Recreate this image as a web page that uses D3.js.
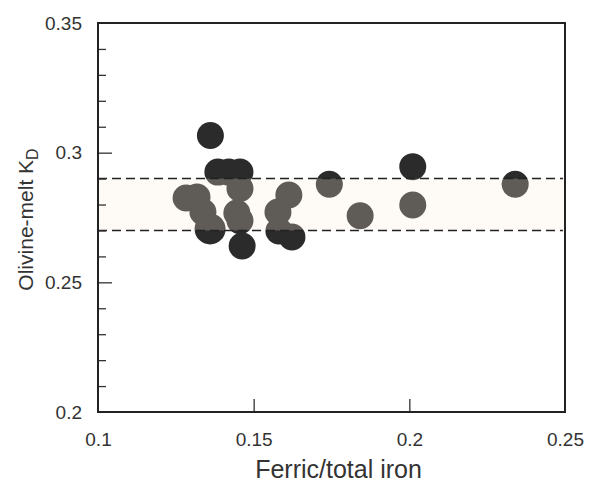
<!DOCTYPE html>
<html>
<head>
<meta charset="utf-8">
<script src="https://cdn.jsdelivr.net/npm/d3@7"></script>
<style>
  body { margin: 0; background: #fff; }
  text { font-family: "Liberation Sans", Arial, sans-serif; fill: #333; }
</style>
</head>
<body>
<div id="chart"></div>
<script>
// values
const ferric = [0.1283, 0.1318, 0.1337, 0.1360, 0.1361, 0.1385, 0.1420, 0.1456, 0.1456,
                0.1446, 0.1456, 0.1463, 0.1613, 0.1578, 0.1581, 0.1623, 0.1743, 0.1842,
                0.2011, 0.2011, 0.2340];
const kd     = [0.2825, 0.2829, 0.2771, 0.2706, 0.3066, 0.2925, 0.2925, 0.2925, 0.2862,
                0.2767, 0.2738, 0.2640, 0.2837, 0.2771, 0.2698, 0.2675, 0.2878, 0.2757,
                0.2946, 0.2798, 0.2878];
const group  = ['a', 'a', 'a', 'b', 'a', 'a', 'a', 'a', 'a',
                'a', 'a', 'a', 'a', 'a', 'a', 'a', 'a', 'a',
                'a', 'a', 'a'];
const bandRange = [0.27, 0.29];
const xTicks = [0.1, 0.15, 0.2, 0.25];
const yTicks = [0.2, 0.25, 0.3, 0.35];
const yMinor = d3.range(21, 35).map(d => d / 100);

const W = 592, H = 485;
const margin = { top: 23, right: 27, bottom: 73, left: 98 };
const width = W - margin.left - margin.right;
const height = H - margin.top - margin.bottom;

const svg = d3.select('#chart').append('svg')
    .attr('width', W).attr('height', H);
const g = svg.append('g').attr('transform', `translate(${margin.left},${margin.top})`);

const x = d3.scaleLinear().domain([0.1, 0.25]).range([0, width]);
const y = d3.scaleLinear().domain([0.2, 0.35]).range([height, 0]);
const radius = { a: 13.5, b: 15.5 };

const pts = ferric.map((f, i) => ({ f, k: kd[i], grp: group[i] }));

// points
g.selectAll('circle.pt').data(pts).enter().append('circle')
    .attr('class', 'pt')
    .attr('cx', d => x(d.f))
    .attr('cy', d => y(d.k))
    .attr('r', d => radius[d.grp])
    .style('fill', '#2b2b2b');

// translucent band laid over the points
g.append('rect')
    .attr('x', 0).attr('width', width)
    .attr('y', y(bandRange[1]))
    .attr('height', y(bandRange[0]) - y(bandRange[1]))
    .style('fill', 'rgb(250,236,215)')
    .style('opacity', 0.25);

g.selectAll('line.dash').data(bandRange).enter().append('line')
    .attr('class', 'dash')
    .attr('x1', 0).attr('x2', width - 2)
    .attr('y1', d => y(d)).attr('y2', d => y(d))
    .style('stroke', '#222')
    .style('stroke-width', 1.5)
    .style('stroke-dasharray', '9,5');

// inner ticks
const yMinorG = g.append('g').call(d3.axisRight(y).tickValues(yMinor).tickSize(8).tickFormat(''));
yMinorG.selectAll('line').filter(d => Math.abs(d * 100 % 5) < 1e-6 || Math.abs(d * 100 % 5 - 5) < 1e-6).attr('x2', 14);
yMinorG.select('.domain').remove();
yMinorG.selectAll('line').style('stroke', '#333').style('stroke-width', 1.3);

const xInner = g.append('g').attr('transform', `translate(0,${height})`)
    .call(d3.axisTop(x).tickValues([0.15, 0.2]).tickSize(13).tickFormat(''));
xInner.select('.domain').remove();
xInner.selectAll('line').style('stroke', '#333').style('stroke-width', 1.3);

// tick labels
const yLab = g.append('g').call(d3.axisLeft(y).tickValues(yTicks).tickSize(0).tickPadding(16).tickFormat(d3.format('')));
yLab.select('.domain').remove();
yLab.selectAll('text').style('font-size', '19px').style('fill', '#333');

const xLab = g.append('g').attr('transform', `translate(0,${height})`)
    .call(d3.axisBottom(x).tickValues(xTicks).tickSize(0).tickPadding(21).tickFormat(d3.format('')));
xLab.select('.domain').remove();
xLab.selectAll('text').style('font-size', '19px').style('fill', '#333');

// frame
g.append('rect')
    .attr('width', width).attr('height', height)
    .style('fill', 'none')
    .style('stroke', '#222')
    .style('stroke-width', 2);

// axis titles
svg.append('text')
    .attr('x', margin.left + width / 2 + 7)
    .attr('y', 478)
    .attr('text-anchor', 'middle')
    .style('font-size', '25px')
    .text('Ferric/total iron');

const yt = svg.append('text')
    .attr('transform', `translate(33,${margin.top + height / 2 + 2}) rotate(-90)`)
    .attr('text-anchor', 'middle')
    .style('font-size', '21px');
yt.append('tspan').text('Olivine-melt K');
yt.append('tspan').attr('dy', 5).style('font-size', '16px').text('D');
</script>
</body>
</html>
